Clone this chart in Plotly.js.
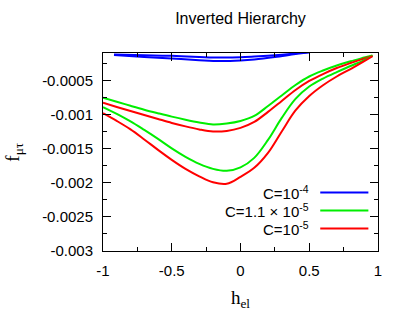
<!DOCTYPE html>
<html>
<head>
<meta charset="utf-8">
<script src="https://cdn.plot.ly/plotly-3.0.1.min.js"></script>
<style>html,body{margin:0;padding:0;background:#fff;}#chart{width:409px;height:327px;}</style>
</head>
<body>
<div id="chart"></div>
<script>
// Series: h_e1 vs f_mu_tau
const blueUpperH = [-0.92, -0.7, -0.5, -0.3, -0.15, 0.0, 0.1, 0.25, 0.4, 0.5];
const blueUpperF = [-0.000123, -0.000133, -0.000142, -0.000158, -0.000167, -0.000163, -0.000152, -0.000132, -0.000108, -0.00009];
const blueLowerH = [-0.92, -0.7, -0.5, -0.3, -0.15, 0.0, 0.1, 0.25, 0.4, 0.5];
const blueLowerF = [-0.00013, -0.000158, -0.000181, -0.000205, -0.000218, -0.000210, -0.000196, -0.000160, -0.000115, -0.00009];

const hGrid = [-1, -0.9, -0.8, -0.7, -0.6, -0.5, -0.4, -0.3, -0.2, -0.1, 0, 0.1, 0.2, 0.3, 0.4, 0.5, 0.6, 0.7, 0.8, 0.9, 0.96];
const greenUpperF = [-0.000756, -0.000814, -0.000873, -0.000930, -0.000982, -0.001032, -0.001077, -0.001117, -0.001146, -0.001132, -0.001095, -0.001022, -0.000876, -0.000722, -0.000569, -0.000444, -0.000357, -0.000284, -0.000222, -0.000167, -0.000135];
const redUpperF = [-0.000829, -0.000890, -0.000949, -0.001007, -0.001066, -0.001124, -0.001175, -0.001219, -0.001249, -0.001241, -0.001197, -0.001110, -0.000963, -0.000803, -0.000642, -0.000510, -0.000408, -0.000320, -0.000247, -0.000181, -0.000142];
const greenLowerF = [-0.000893, -0.000993, -0.001102, -0.001227, -0.001358, -0.001497, -0.001621, -0.001724, -0.001797, -0.001826, -0.001775, -0.001636, -0.001373, -0.001051, -0.000773, -0.000591, -0.000474, -0.000379, -0.000291, -0.000203, -0.000137];
const redLowerF = [-0.000981, -0.001095, -0.001219, -0.001366, -0.001519, -0.001665, -0.001797, -0.001906, -0.001994, -0.002016, -0.001914, -0.001782, -0.001563, -0.001249, -0.000942, -0.000730, -0.000572, -0.000444, -0.000335, -0.000218, -0.000145];

const legendLabels = ["C=10<sup>-4</sup>", "C=1.1 × 10<sup>-5</sup>", "C=10<sup>-5</sup>"];
const legendColors = ["#0000ff", "#00ee00", "#ff0000"];

const xTickVals = [-1, -0.5, 0, 0.5, 1];
const xTickText = ["-1", "-0.5", "0", "0.5", "1"];
const yTickVals = [-0.003, -0.0025, -0.002, -0.0015, -0.001, -0.0005];
const yTickText = ["-0.003", "-0.0025", "-0.002", "-0.0015", "-0.001", "-0.0005"];

const BLUE = legendColors[0], GREEN = legendColors[1], RED = legendColors[2];

function tr(x, y, color) {
  return {x: x, y: y, type: 'scatter', mode: 'lines',
    line: {color: color, width: 2, shape: 'spline', smoothing: 1.0},
    showlegend: false, hoverinfo: 'skip'};
}

const data = [
  tr(blueUpperH, blueUpperF, BLUE),
  tr(blueLowerH, blueLowerF, BLUE),
  tr(hGrid, greenUpperF, GREEN),
  tr(hGrid, redUpperF, RED),
  tr(hGrid, greenLowerF, GREEN),
  tr(hGrid, redLowerF, RED)
];

const tickFont = {family: 'Liberation Sans, Arial, sans-serif', size: 15, color: '#000'};
const axisCommon = {
  showgrid: false, zeroline: false, showline: true, linecolor: '#000', linewidth: 1,
  mirror: 'allticks', ticks: 'inside', ticklen: 8, tickcolor: '#000', tickwidth: 1,
  tickfont: tickFont, ticklabelstandoff: 6
};

const annotations = legendLabels.map((t, i) => ({
  xref: 'paper', yref: 'paper', x: 0.755, y: 0.296 - i * 0.091,
  xanchor: 'right', yanchor: 'middle', showarrow: false, text: t,
  font: {family: 'Liberation Sans, Arial, sans-serif', size: 15, color: '#000'}
}));
annotations.push({
  xref: 'paper', yref: 'paper', x: -0.325, y: 0.5, xanchor: 'center', yanchor: 'middle',
  textangle: -90, showarrow: false, text: 'f<sub>μτ</sub>',
  font: {family: 'Liberation Serif, Times New Roman, serif', size: 19, color: '#000'}
});
const shapes = legendColors.map((c, i) => ({
  type: 'line', xref: 'paper', yref: 'paper',
  x0: 0.79, x1: 0.965, y0: 0.296 - i * 0.091, y1: 0.296 - i * 0.091,
  line: {color: c, width: 2}
}));

const layout = {
  width: 409, height: 327,
  margin: {l: 103, r: 31, t: 53, b: 76},
  paper_bgcolor: '#fff', plot_bgcolor: '#fff',
  title: {text: 'Inverted Hierarchy', x: 0.5, xref: 'paper', y: 0.945, yanchor: 'middle',
    font: {family: 'Liberation Sans, Arial, sans-serif', size: 16, color: '#000'}},
  xaxis: Object.assign({}, axisCommon, {
    range: [-1, 1], tickmode: 'array', tickvals: xTickVals, ticktext: xTickText,
    minor: {dtick: 0.25, ticks: 'inside', ticklen: 4, tickcolor: '#000', tickwidth: 1},
    title: {text: 'h<sub>el</sub>', standoff: 12,
      font: {family: 'Liberation Serif, Times New Roman, serif', size: 19, color: '#000'}}
  }),
  yaxis: Object.assign({}, axisCommon, {
    range: [-0.003, -0.0001], tickmode: 'array', tickvals: yTickVals, ticktext: yTickText,
    minor: {dtick: 0.00025, tick0: -0.003, ticks: 'inside', ticklen: 4, tickcolor: '#000', tickwidth: 1}
  }),
  annotations: annotations,
  shapes: shapes
};

Plotly.newPlot('chart', data, layout, {staticPlot: true, displayModeBar: false});
</script>
</body>
</html>
